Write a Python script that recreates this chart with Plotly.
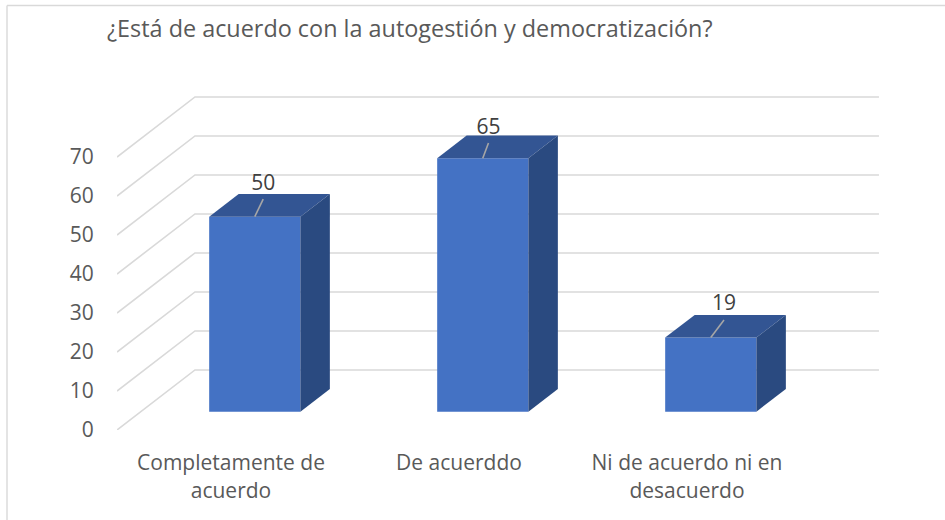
import plotly.graph_objects as go

TITLE = "¿Está de acuerdo con la autogestión y democratización?"
CATEGORIES = ["Completamente de<br>acuerdo", "De acuerddo", "Ni de acuerdo ni en<br>desacuerdo"]
VALUES = [50, 65, 19]
Y_TICKS = [0, 10, 20, 30, 40, 50, 60, 70]

# projection of the pseudo-3D box (x in category units, y in value units)
DEPTH_X, DEPTH_Y = 0.342, 15.4
BAR_WIDTH = 0.4
BAR_FRONT, BAR_BACK = 0.305, 0.683
# offset of the data label from the front edge of each bar's top
LABEL_DX = [0.037, 0.025, 0.058]
LABEL_DY = [4.5, 3.9, 4.5]
TEXT_DY = [3.8, 3.7, 3.8]

FONT = "Open Sans"
FRONT, TOP, SIDE = "#4472C4", "#335593", "#2A4A80"


def project(x, v, d):
    return x + d * DEPTH_X, v + d * DEPTH_Y


fig = go.Figure()
xs = list(range(len(VALUES)))

fig.add_trace(go.Bar(
    x=[project(i, 0, BAR_FRONT)[0] for i in xs],
    y=VALUES,
    base=[project(0, 0, BAR_FRONT)[1]] * len(VALUES),
    width=BAR_WIDTH,
    marker=dict(color=FRONT, line=dict(width=0)),
    hoverinfo="skip",
))

for i, v in zip(xs, VALUES):
    l, r = i - BAR_WIDTH / 2, i + BAR_WIDTH / 2
    corners_top = [project(l, v, BAR_FRONT), project(r, v, BAR_FRONT),
                   project(r, v, BAR_BACK), project(l, v, BAR_BACK)]
    corners_side = [project(r, 0, BAR_FRONT), project(r, v, BAR_FRONT),
                    project(r, v, BAR_BACK), project(r, 0, BAR_BACK)]
    for corners, colour in ((corners_top, TOP), (corners_side, SIDE)):
        fig.add_trace(go.Scatter(
            x=[c[0] for c in corners] + [corners[0][0]],
            y=[c[1] for c in corners] + [corners[0][1]],
            mode="lines", fill="toself", fillcolor=colour,
            line=dict(width=0), hoverinfo="skip",
        ))
    # data label with its leader line
    x0, y0 = project(i, v, BAR_FRONT)
    x1, y1 = x0 + LABEL_DX[i], y0 + LABEL_DY[i]
    fig.add_trace(go.Scatter(
        x=[x0, x1], y=[y0, y1], mode="lines",
        line=dict(color="#A6A6A6", width=1.6), hoverinfo="skip",
    ))
    fig.add_trace(go.Scatter(
        x=[x1], y=[y1 + TEXT_DY[i]], mode="text", text=[str(v)],
        textposition="middle center", cliponaxis=False,
        textfont=dict(family=FONT, size=21, color="#404040"), hoverinfo="skip",
    ))

# gridlines: side wall + back wall
shapes = []
for t in Y_TICKS:
    a = project(-0.5, t, 0)
    b = project(-0.5, t, 1)
    c = project(2.5, t, 1)
    shapes.append(dict(type="path", xref="x", yref="y", layer="below",
                       path=f"M {a[0]} {a[1]} L {b[0]} {b[1]} L {c[0]} {c[1]}",
                       line=dict(color="#D9D9D9", width=1.6)))

# chart frame (left and top edges)
W, H = 945, 520
ML, MR, MT, MB = 117, 60, 90, 90
pw, ph = W - ML - MR, H - MT - MB
px = lambda p: (p - ML) / pw
py = lambda p: 1 - (p - MT) / ph
for x0, y0, x1, y1 in ((7, 5.5, 7, 520), (7, 5.5, 945, 5.5)):
    shapes.append(dict(type="line", xref="paper", yref="paper",
                       x0=px(x0), y0=py(y0), x1=px(x1), y1=py(y1),
                       line=dict(color="#D9D9D9", width=1.4)))

fig.update_layout(
    width=W, height=H, showlegend=False, barmode="overlay",
    margin=dict(l=ML, r=MR, t=MT, b=MB, pad=0),
    paper_bgcolor="white", plot_bgcolor="white",
    font=dict(family=FONT, color="#595959"),
    title=dict(text=TITLE, x=107 / W, xanchor="left", y=1 - 29 / H, yanchor="middle",
               font=dict(family=FONT, size=23.4, color="#595959")),
    shapes=shapes,
    xaxis=dict(range=[-0.5, -0.5 + pw / 228], tickmode="array", tickvals=xs, ticktext=CATEGORIES,
               showgrid=False, zeroline=False, showline=False, ticks="outside", ticklen=14,
               tickcolor="rgba(0,0,0,0)", tickfont=dict(family=FONT, size=21, color="#595959")),
    yaxis=dict(range=[0, ph / 3.9], tickmode="array", tickvals=Y_TICKS,
               showgrid=False, zeroline=False, showline=False, ticks="outside", ticklen=18,
               tickcolor="rgba(0,0,0,0)", tickfont=dict(family=FONT, size=21, color="#595959")),
)
fig.write_html("out.html", config={"displayModeBar": False},
               post_script="document.body.style.margin='0';")
